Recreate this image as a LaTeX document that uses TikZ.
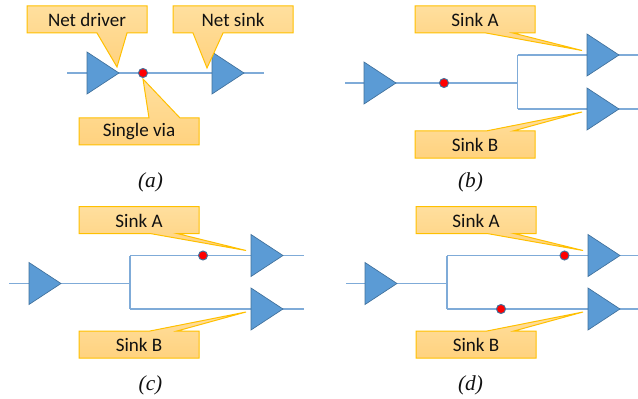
\documentclass[tikz,border=0pt]{standalone}
\usepackage{fontspec}
\setmainfont{Liberation Serif}
\newfontfamily\calloutfont{Carlito}
\definecolor{wireblue}{HTML}{7FABD8}
\definecolor{trifill}{HTML}{5B9BD5}
\definecolor{triline}{HTML}{41719C}
\definecolor{boxline}{HTML}{FFC000}
\definecolor{boxtop}{HTML}{FFDF9E}
\definecolor{boxbot}{HTML}{FFD27F}
\definecolor{viared}{HTML}{FF0000}
\definecolor{inktext}{HTML}{111111}
\tikzset{
  wire/.style={draw=wireblue,line width=0.85pt},
  gate/.style={draw=triline,fill=trifill,line width=0.5pt,line join=miter},
  callout/.style={draw=boxline,line width=0.75pt,top color=boxtop,bottom color=boxbot,line join=miter},
  calltext/.style={font=\calloutfont\fontsize{14.3}{16}\selectfont,text=inktext,inner sep=0pt},
  via/.style={circle,draw=triline,fill=viared,line width=0.7pt,minimum size=6.8pt,inner sep=0pt},
  caption/.style={font=\itshape\fontsize{16}{18}\selectfont,text=inktext,inner sep=0pt}
}
% triangle: name, left x, centre y
\newcommand{\gatetri}[3]{%
  \coordinate (#1in) at (#2,#3);
  \coordinate (#1out) at (#2+32,#3);
  \draw[gate] (#2,#3-21) -- (#1out) -- (#2,#3+21) -- cycle;}
% callout with pointer on bottom edge: name, x0, y0, px1, px2, tipx, tipy, text
\newcommand{\calldown}[8]{%
  \draw[callout] (#2,#3) -- (#2+120,#3) -- (#2+120,#3+27) -- (#5,#3+27) -- (#6,#7) -- (#4,#3+27) -- (#2,#3+27) -- cycle;
  \node[calltext] (#1) at (#2+60,#3+14) {#8};}
% callout with pointer on top edge
\newcommand{\callup}[8]{%
  \draw[callout] (#2,#3) -- (#4,#3) -- (#6,#7) -- (#5,#3) -- (#2+120,#3) -- (#2+120,#3+27) -- (#2,#3+27) -- cycle;
  \node[calltext] (#1) at (#2+60,#3+14) {#8};}
\begin{document}
\begin{tikzpicture}[x=0.75pt,y=-0.75pt]
\useasboundingbox (0,0) rectangle (638,399);
% ---------- (a)
\coordinate (a0) at (67,73);
\coordinate (a1) at (264,73);
\draw[wire] (a0) -- (a1);
\gatetri{ad}{87}{73}
\gatetri{as}{212}{73}
\calldown{adt}{27}{6}{97}{127}{117}{67}{Net driver}
\calldown{ast}{173}{6}{193}{223}{207}{68}{Net sink}
\callup{avt}{79}{118}{149}{180}{143}{79}{Single via}
\node[via] (av) at (143,73) {};
\node[caption] (ca) at (150.5,182) {(a)};
% ---------- (b)
\coordinate (b0) at (345,83);
\coordinate (bj) at (517.5,83);
\coordinate (bu) at (517.5,55);
\coordinate (bl) at (517.5,109);
\coordinate (bue) at (638,55);
\coordinate (ble) at (638,109);
\draw[wire] (b0) -- (bj);
\draw[wire] (bu) -- (bl);
\draw[wire] (bu) -- (bue);
\draw[wire] (bl) -- (ble);
\gatetri{bd}{364}{83}
\gatetri{bsa}{587}{55}
\gatetri{bsb}{587}{109}
\calldown{bat}{415}{6}{486}{513}{582}{50.5}{Sink A}
\callup{bbt}{415}{131}{486}{513}{582}{112}{Sink B}
\node[via] (bv) at (444,83) {};
\node[caption] (cb) at (470.5,182) {(b)};
% ---------- (c)
\coordinate (c0) at (9,283.5);
\coordinate (cj) at (130,283.5);
\coordinate (cu) at (130,255.5);
\coordinate (cl) at (130,309);
\coordinate (cue) at (304,255.5);
\coordinate (cle) at (304,309);
\draw[wire] (c0) -- (cj);
\draw[wire] (cu) -- (cl);
\draw[wire] (cu) -- (cue);
\draw[wire] (cl) -- (cle);
\gatetri{cd}{29}{283.5}
\gatetri{csa}{251}{255.5}
\gatetri{csb}{251}{309}
\calldown{cat}{79}{206.5}{150}{177}{246}{250.5}{Sink A}
\callup{cbt}{79}{331}{150}{177}{246}{312}{Sink B}
\node[via] (cv) at (203,255.5) {};
\node[caption] (cc) at (150.5,385) {(c)};
% ---------- (d)
\coordinate (d0) at (346,283.5);
\coordinate (dj) at (447,283.5);
\coordinate (du) at (447,255.5);
\coordinate (dl) at (447,309);
\coordinate (due) at (638,255.5);
\coordinate (dle) at (638,309);
\draw[wire] (d0) -- (dj);
\draw[wire] (du) -- (dl);
\draw[wire] (du) -- (due);
\draw[wire] (dl) -- (dle);
\gatetri{dd}{365}{283.5}
\gatetri{dsa}{588}{255.5}
\gatetri{dsb}{588}{309}
\calldown{dat}{416}{206.5}{487}{514}{583}{250.5}{Sink A}
\callup{dbt}{416}{331}{487}{514}{583}{312}{Sink B}
\node[via] (dva) at (564.5,255.5) {};
\node[via] (dvb) at (501,309) {};
\node[caption] (cd) at (470.5,385) {(d)};
\end{tikzpicture}
\end{document}
